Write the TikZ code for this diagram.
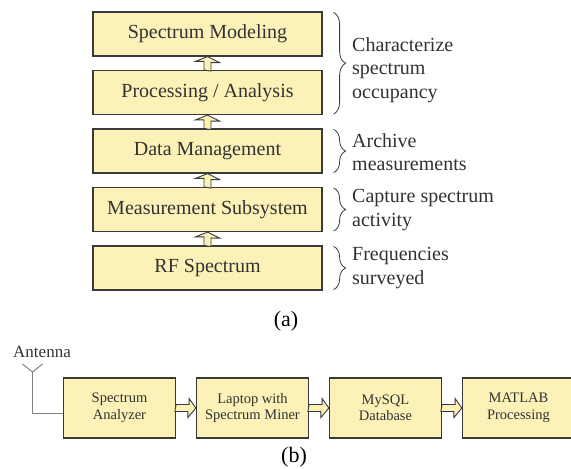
\documentclass[tikz,border=0pt]{standalone}
\usepackage{fontspec}
\setmainfont{Liberation Serif}
\usetikzlibrary{decorations.pathreplacing}
\definecolor{boxfill}{RGB}{252,242,184}
\definecolor{boxline}{RGB}{58,58,58}
\definecolor{txtgray}{RGB}{50,50,50}

\begin{document}
\begin{tikzpicture}[x=1pt,y=-1pt,
  layer/.style={draw=boxline,fill=boxfill,line width=1.2pt,minimum width=229pt,minimum height=44pt,inner sep=0pt,text=txtgray,font=\fontsize{20}{23}\selectfont},
  stage/.style={draw=boxline,fill=boxfill,line width=1.2pt,minimum width=112pt,minimum height=60pt,inner sep=0pt,align=center,text=txtgray,font=\fontsize{14.5}{16.5}\selectfont},
  hollow/.style={draw=boxline,fill=boxfill,line width=0.9pt,line join=miter},
  brc/.style={decorate,decoration={brace,amplitude=12pt},draw=boxline,line width=0.8pt},
  note/.style={anchor=west,align=left,inner sep=3pt,text=txtgray,font=\fontsize{20}{23.5}\selectfont},
  antline/.style={draw=gray,line width=0.9pt}]
\useasboundingbox (0,0) rectangle (571,469);
% (a) layered view
\node[layer] (l1) at (207.5,34) {Spectrum Modeling};
\node[layer] (l2) at (207.5,92.5) {Processing / Analysis};
\node[layer] (l3) at (207.5,151) {Data Management};
\node[layer] (l4) at (207.5,209.5) {Measurement Subsystem};
\node[layer] (l5) at (207.5,268) {RF Spectrum};
\foreach \lo/\hi in {l5/l4,l4/l3,l3/l2,l2/l1}
  \draw[hollow] (\lo.north) ++(-3.5,0) -- ++(0,-8.5) -- ++(-8.5,0) -- (\hi.south)
    -- ++(12,6) -- ++(-8.5,0) -- ++(0,8.5) -- cycle;
\draw[brc] ([xshift=11pt,yshift=-1pt]l1.north east) -- ([xshift=11pt,yshift=1pt]l2.south east);
\draw[brc] ([xshift=11pt,yshift=-1pt]l3.north east) -- ([xshift=11pt,yshift=1pt]l3.south east);
\draw[brc] ([xshift=11pt,yshift=-1pt]l4.north east) -- ([xshift=11pt,yshift=1pt]l4.south east);
\draw[brc] ([xshift=11pt,yshift=-1pt]l5.north east) -- ([xshift=11pt,yshift=1pt]l5.south east);
\node[note] (n1) at (349,70) {Characterize\\spectrum\\occupancy};
\node[note] (n2) at (349,152) {Archive\\measurements};
\node[note] (n3) at (349,210) {Capture spectrum\\activity};
\node[note] (n4) at (349,268) {Frequencies\\surveyed};
\node[text=black,font=\fontsize{22}{24}\selectfont] (capa) at (286,321) {(a)};
% (b) measurement chain
\node[stage] (sa) at (119.5,408) {Spectrum\\Analyzer};
\node[stage] (lap) at (252.5,408) {Laptop with\\Spectrum Miner};
\node[stage] (db) at (385.5,408) {MySQL\\Database};
\node[stage] (mat) at (518.5,408) {MATLAB\\Processing};
\foreach \a/\b in {sa/lap,lap/db,db/mat}
  \draw[hollow] (\a.east) ++(0,-3.5) -- ++(13,0) -- ++(0,-6) -- (\b.west)
    -- ++(-8,9.5) -- ++(0,-6) -- ++(-13,0) -- cycle;
\node[text=txtgray,font=\fontsize{17}{19}\selectfont] (antlbl) at (42,352) {Antenna};
\coordinate (ant) at (32.5,372);
\draw[antline] (ant) -- ++(-10,-8) (ant) -- ++(10,-8);
\draw[antline] (ant) |- ([yshift=-5pt]sa.west);
\node[text=black,font=\fontsize{22}{24}\selectfont] (capb) at (294,457) {(b)};
\end{tikzpicture}
\end{document}
